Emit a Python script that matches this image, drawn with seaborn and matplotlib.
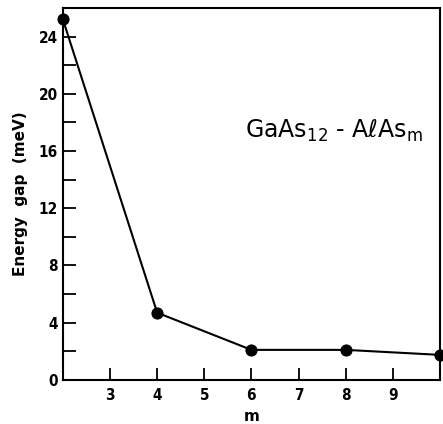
import pandas as pd
import matplotlib
matplotlib.use("Agg")
import matplotlib.pyplot as plt
import seaborn as sns

# data
m_values = [2, 4, 6, 8, 10]
energy_gap = [25.2, 4.7, 2.1, 2.1, 1.75]
x_ticks = [3, 4, 5, 6, 7, 8, 9]
y_ticks = [0, 4, 8, 12, 16, 20, 24]
y_minor = [2, 6, 10, 14, 18, 22]

df = pd.DataFrame({"m": m_values, "gap": energy_gap})

sns.set_style("ticks")
plt.rcParams['font.family'] = ['DejaVu Sans']
plt.rcParams['text.color'] = 'black'
plt.rcParams['axes.labelcolor'] = 'black'

fig = plt.figure(figsize=(4.43, 4.24), dpi=100)
ax = fig.add_axes([0.142, 0.104, 0.851, 0.877])

sns.lineplot(data=df, x="m", y="gap", ax=ax, color="black", linewidth=1.5,
             marker="o", markersize=8, markeredgecolor="black", clip_on=False)

ax.set_xlim(2, 10)
ax.set_ylim(0, 26)
ax.set_xticks(x_ticks)
ax.set_yticks(y_ticks)
ax.set_yticks(y_minor, minor=True)
ax.tick_params(axis="both", which="both", direction="in", length=9, width=1.3,
               labelsize=11, colors="black")
ax.tick_params(axis="x", pad=6)
for lab in ax.get_xticklabels() + ax.get_yticklabels():
    lab.set_fontweight("bold")
    lab.set_fontstretch("condensed")

for s in ax.spines.values():
    s.set_linewidth(1.5)
    s.set_color("black")

ax.set_xlabel("m", fontsize=11, fontweight="bold", labelpad=4)
ax.set_ylabel("Energy  gap  (meV)", fontsize=11, fontweight="bold", labelpad=8)

ax.text(0.955, 0.67, r"GaAs$_{12}$ - A$\ell$As$_{\mathrm{m}}$", transform=ax.transAxes,
        ha="right", va="center", fontsize=17, color="black")

plt.savefig("out.png", dpi=100)
